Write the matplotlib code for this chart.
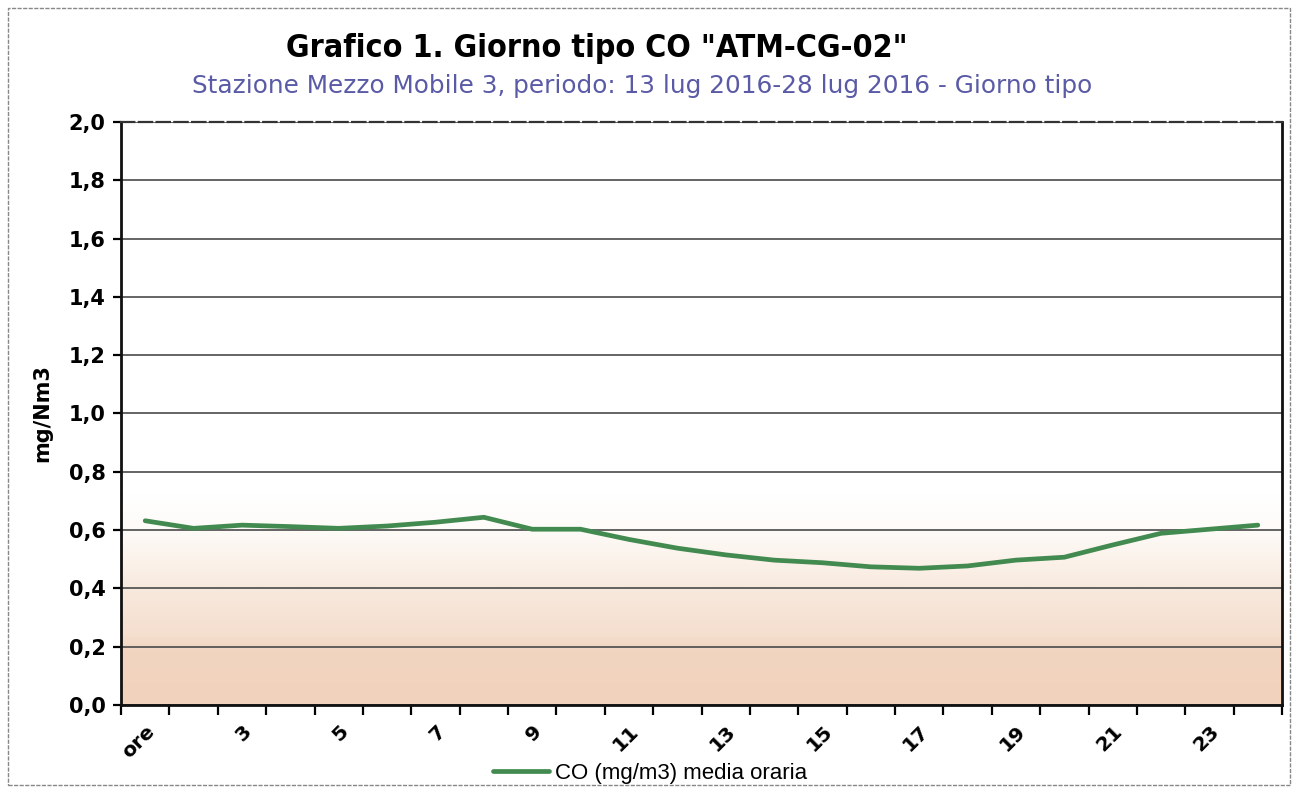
import numpy as np
import matplotlib.pyplot as plt
import matplotlib.transforms as mtransforms
from matplotlib.colors import LinearSegmentedColormap
from matplotlib.ticker import FuncFormatter, MultipleLocator
from matplotlib.patches import Rectangle
from matplotlib.font_manager import FontProperties

# hourly categories of the typical day
ore = ["ore"] + [str(h) for h in range(2, 25)]
# CO hourly mean (mg/Nm3)
co_medio = [0.632, 0.606, 0.617, 0.612, 0.606, 0.614, 0.627, 0.644,
            0.603, 0.603, 0.568, 0.538, 0.515, 0.497, 0.488, 0.474,
            0.469, 0.477, 0.497, 0.507, 0.549, 0.589, 0.603, 0.617]
y_ticks = [0.0, 0.2, 0.4, 0.6, 0.8, 1.0, 1.2, 1.4, 1.6, 1.8, 2.0]

bold = dict(family="DejaVu Sans", weight="bold", stretch="normal")

fig = plt.figure(figsize=(12.92, 7.89), dpi=100)
ax = fig.add_axes([121 / 1292, 1 - 705 / 789, (1282 - 121) / 1292, (705 - 122) / 789])

x = np.arange(len(ore))
ax.set_xlim(-0.5, len(ore) - 0.5)
ax.set_ylim(y_ticks[0], y_ticks[-1])

# warm gradient: peach at the bottom fading to white around 0,6
cmap = LinearSegmentedColormap.from_list(
    "sfondo", [(0.0, "#f1d2bc"), (0.09, "#f2d5c1"), (0.12, "#f5dfcf"),
               (0.2, "#f8e9de"), (0.24, "#fbf1e9"), (0.3, "#fefbf8"),
               (0.36, "#ffffff"), (1.0, "#ffffff")])
grad = np.linspace(0, 1, 400).reshape(-1, 1)
ax.imshow(grad, cmap=cmap, origin="lower", aspect="auto",
          extent=[-0.5, len(ore) - 0.5, 0, 2.0], zorder=0)

ax.yaxis.set_major_locator(MultipleLocator(0.2))
ax.yaxis.set_major_formatter(FuncFormatter(lambda v, p: f"{v:.1f}".replace(".", ",")))
ax.grid(axis="y", color="#4a4a4a", linewidth=1.2, zorder=1)

ax.plot(x, co_medio, color="#428a50", linewidth=3.4, zorder=3,
        solid_capstyle="round", label="CO (mg/m3) media oraria")

# ticks between categories, labels every other hour
ax.set_xticks(np.arange(len(ore) + 1) - 0.5, minor=False)
ax.set_xticklabels([])
ax.set_xticks(x[::2], minor=True)
ax.set_xticklabels(ore[::2], minor=True, rotation=45, ha="right",
                   rotation_mode="anchor", fontsize=14.5, **bold)
shift = mtransforms.ScaledTranslation(-8 / 100, 0, fig.dpi_scale_trans)
for lab in ax.get_xticklabels(minor=True):
    lab.set_transform(lab.get_transform() + shift)
ax.tick_params(axis="x", which="minor", length=0, pad=12)
ax.tick_params(axis="x", which="major", length=7, width=1.6, direction="out")
ax.tick_params(axis="y", length=6, width=1.6, direction="out", pad=5)
for lab in ax.get_yticklabels():
    lab.set_fontproperties(FontProperties(size=15, **bold))

for s in ["left", "bottom", "right"]:
    ax.spines[s].set_linewidth(2.0)
    ax.spines[s].set_color("#111111")
ax.spines["top"].set_linewidth(1.6)
ax.spines["top"].set_color("#333333")
ax.spines["top"].set_linestyle((0, (6, 2)))

ax.set_ylabel("mg/Nm3", fontsize=15, labelpad=12, **bold)

fig.text(0.462, 0.938, 'Grafico 1. Giorno tipo CO "ATM-CG-02"', ha="center",
         va="center", fontsize=23, fontweight="bold", family="DejaVu Sans",
         stretch="condensed")
fig.text(0.497, 0.891,
         "Stazione Mezzo Mobile 3, periodo: 13 lug 2016-28 lug 2016 - Giorno tipo",
         ha="center", va="center", fontsize=17.8, color="#5a5aa6",
         family="DejaVu Sans")

fig.legend(loc="center left", bbox_to_anchor=(493 / 1292, 0.02), frameon=False,
           prop={"family": "Liberation Sans", "size": 16},
           handlelength=2.5, handletextpad=0.3, borderaxespad=0, borderpad=0)

# outer frame of the chart box
fig.patches.append(Rectangle((8 / 1292, 0.005), 1 - 10 / 1292, 1 - 12 / 789,
                             transform=fig.transFigure, fill=False,
                             edgecolor="#888888", linewidth=1.0,
                             linestyle=(0, (3, 1))))

fig.savefig("out.png", dpi=100)
